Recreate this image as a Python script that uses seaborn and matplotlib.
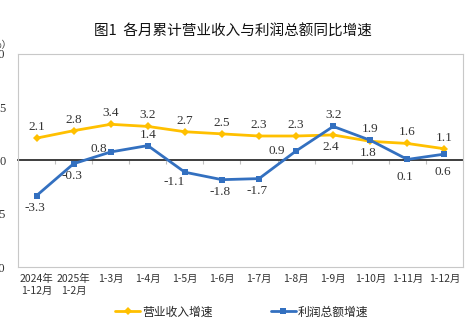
import matplotlib
matplotlib.use("Agg")
import matplotlib.pyplot as plt
import seaborn as sns
import pandas as pd
import numpy as np

# ---- data ----
categories = ["2024年\n1-12月", "2025年\n1-2月", "1-3月", "1-4月", "1-5月", "1-6月",
              "1-7月", "1-8月", "1-9月", "1-10月", "1-11月", "1-12月"]
revenue_growth = [2.1, 2.8, 3.4, 3.2, 2.7, 2.5, 2.3, 2.3, 2.4, 1.8, 1.6, 1.1]
profit_growth = [-3.3, -0.3, 0.8, 1.4, -1.1, -1.8, -1.7, 0.9, 3.2, 1.9, 0.1, 0.6]
series_names = ["营业收入增速", "利润总额增速"]
y_ticks = [-10, -5, 0, 5, 10]

# label placement codes (style only)
revenue_label_pos = ["above"] * 8 + ["below", "below", "above", "above"]
profit_label_pos = ["below", "below", "left", "above", "belowleft", "below",
                    "below", "farleft", "above", "above", "farbelow", "farbelow"]
offsets = {"above": (0, 11), "below": (-2, -12), "left": (-12, 3), "farleft": (-19, 0),
           "belowleft": (-11, -10), "farbelow": (-2, -18)}

colors = ["#FFC000", "#3370C0"]

sns.set_theme(style="white")
plt.rcParams["font.family"] = ["Noto Sans CJK SC", "DejaVu Sans"]

df = pd.DataFrame({
    "cat": categories * 2,
    "val": revenue_growth + profit_growth,
    "series": [series_names[0]] * len(categories) + [series_names[1]] * len(categories),
})

fig = plt.figure(figsize=(4.66, 3.24), dpi=100)
ax = fig.add_axes([18 / 466, 1 - 267 / 324, 445 / 466, 213 / 324])

sns.lineplot(data=df, x="cat", y="val", hue="series", style="series",
             markers={series_names[0]: "D", series_names[1]: "s"}, dashes=False,
             palette=colors, linewidth=2.0, markersize=4.5, markeredgewidth=0,
             sort=False, ax=ax, legend=True)

ax.set_xlim(-0.5, len(categories) - 0.5)
ax.set_ylim(y_ticks[0], y_ticks[-1])
ax.set_yticks(y_ticks)
ax.set_yticklabels([str(t) for t in y_ticks], family="Liberation Serif", fontsize=9, color="#333333")
ax.set_xticks(range(len(categories)))
ax.set_xticklabels(categories, fontsize=7.5, color="#333333", linespacing=1.3)
ax.tick_params(axis="x", length=0, pad=5)
ax.tick_params(axis="y", length=0, pad=9)
ax.set_xlabel("")
ax.set_ylabel("")
for s in ax.spines.values():
    s.set_color("#C8C8C8")
    s.set_linewidth(0.8)

# zero category axis with inner tick marks at boundaries
sec = ax.secondary_xaxis(0.5)
sec.set_xticks(np.arange(len(categories) - 1) + 0.5)
sec.set_xticklabels([])
sec.tick_params(axis="x", direction="in", length=3, width=0.8, color="#BFBFBF")
sec.spines["bottom"].set_color("#BFBFBF")
sec.spines["bottom"].set_linewidth(0.8)

# data labels
for vals, poss in [(revenue_growth, revenue_label_pos), (profit_growth, profit_label_pos)]:
    for i, (v, p) in enumerate(zip(vals, poss)):
        dx, dy = offsets[p]
        ax.annotate(f"{v:.1f}", (i, v), xytext=(dx, dy), textcoords="offset pixels",
                    ha="center", va="center", fontsize=9.5, family="Liberation Serif",
                    color="#333333")

# legend
handles, labels = ax.get_legend_handles_labels()
ax.get_legend().remove()
fig.legend(handles, labels, loc="center", bbox_to_anchor=(0.519, 1 - 312 / 324), ncol=2,
           frameon=False, fontsize=8.5, handlelength=2.1, handletextpad=0.2,
           columnspacing=4.9)

fig.text(0.5, 1 - 32 / 324, "图1  各月累计营业收入与利润总额同比增速", ha="center", va="center",
         fontsize=10.5, color="#111111")
fig.text(12 / 466, 1 - 45 / 324, "（%）", ha="right", va="center", fontsize=7, color="#333333")

fig.savefig("out.png", dpi=100)
